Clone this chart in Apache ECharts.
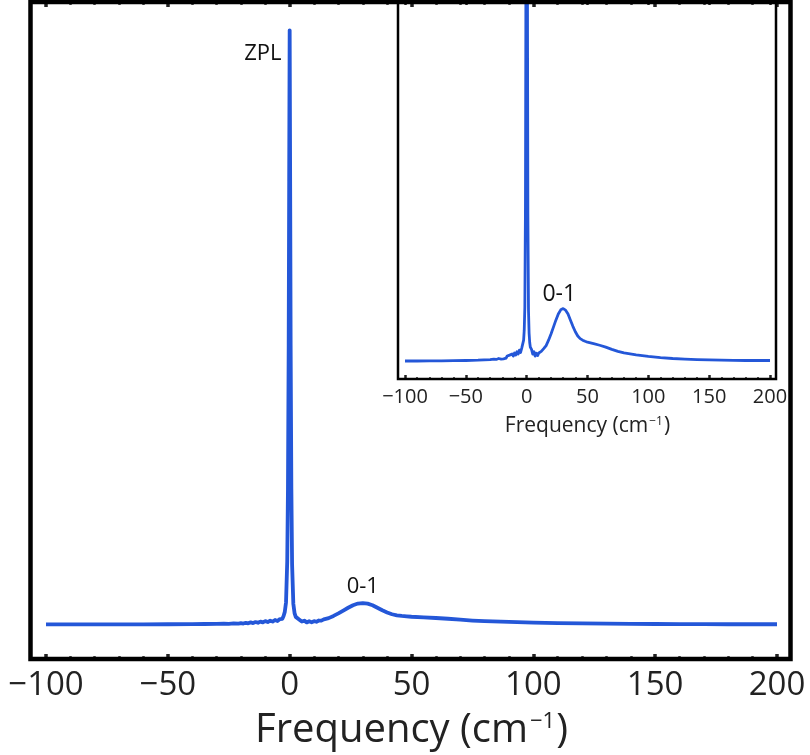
<!DOCTYPE html>
<html>
<head>
<meta charset="utf-8">
<script src="https://cdn.jsdelivr.net/npm/echarts@6/dist/echarts.min.js"></script>
<style>
html,body{margin:0;padding:0;background:#fff;}
#chart{width:810px;height:755px;}
</style>
</head>
<body>
<div id="chart"></div>
<script>
// ---- data ----
const frequency = [-100,-90,-80,-70,-60,-50,-40,-35,-30,-27,-25,-23,-21,-20,-19,-18,-17,-16,-15,-14,-13,-12,-11,-10,-9,-8,-7,-6,-5,-4,-3,-2.5,-2,-1.5,-1,-0.7,-0.4,-0.2,0,0.2,0.4,0.7,1,1.5,2,2.5,3,4,5,6,7,8,9,10,11,12,13,14,16,18,20,22,24,26,28,30,32,34,36,38,40,42,44,46,48,50,55,60,65,70,75,80,90,100,110,120,130,140,150,160,170,180,190,200];
const intensity = [5.50,5.50,5.51,5.51,5.52,5.53,5.55,5.57,5.59,5.62,5.60,5.66,5.62,5.70,5.64,5.76,5.68,5.82,5.72,5.88,5.76,5.95,5.82,6.02,5.88,6.10,5.95,6.20,6.05,6.35,6.40,6.85,7.50,9.00,15.5,27,50,76,100,76,50,27,15.0,8.8,7.3,6.7,6.40,6.25,5.95,6.10,5.82,6.00,5.85,6.02,5.92,6.12,6.10,6.30,6.50,6.85,7.25,7.70,8.15,8.55,8.82,8.90,8.80,8.55,8.15,7.75,7.40,7.12,6.95,6.85,6.78,6.72,6.62,6.52,6.40,6.25,6.12,6.02,5.90,5.80,5.72,5.66,5.62,5.59,5.57,5.55,5.54,5.53,5.53,5.53];
const xTicks = {min: -100, max: 200, interval: 50};
const mainAnnotations = [{text: 'ZPL', x: -11, y: 96.2}, {text: '0-1', x: 30, y: 11.45}];
const insetAnnotations = [{text: '0-1', x: 26.8, y: 9.8}];
const axisTitle = ['Frequency (cm', '\u22121', ')'];

// ---- chart ----
const seriesData = frequency.map((f, i) => [f, intensity[i]]);
const blue = '#2457d8';
const FONT = 'Open Sans';

function xAxisDef(grid, pos, big, showLabel) {
  return {
    type: 'value', gridIndex: grid, position: pos,
    min: xTicks.min, max: xTicks.max, interval: xTicks.interval,
    axisLine: {show: false},
    splitLine: {show: false},
    axisTick: {show: true, inside: true, length: big ? 5 : 4, lineStyle: {color: '#222', width: big ? 3.5 : 2.5}},
    minorTick: {show: true, splitNumber: 5, length: big ? 3 : 2, lineStyle: {color: '#444', width: big ? 2.5 : 1.8}},
    axisLabel: {
      show: showLabel, margin: big ? 10 : 8, color: '#222',
      fontFamily: FONT, fontSize: big ? 33 : 20,
      formatter: v => (v < 0 ? '\u2212' + Math.abs(v) : String(v))
    },
    name: showLabel ? ('{a|' + axisTitle[0] + '}{s|' + axisTitle[1] + '}{a|' + axisTitle[2] + '}') : '',
    nameLocation: 'middle',
    nameGap: big ? 52 : 37,
    nameTextStyle: {
      rich: {
        a: {fontFamily: FONT, fontSize: big ? 40 : 21, color: '#222'},
        s: {fontFamily: FONT, fontSize: big ? 22 : 12, color: '#222', verticalAlign: 'top', padding: big ? [0,1,17,2] : [0,1,8,1]}
      }
    }
  };
}

function markLabels(list, size) {
  return {
    silent: true,
    symbol: 'circle', symbolSize: 0,
    label: {show: true, position: 'inside', color: '#111', fontFamily: FONT, fontSize: size, formatter: p => p.name},
    data: list.map(a => ({name: a.text, coord: [a.x, a.y]}))
  };
}

const chart = echarts.init(document.getElementById('chart'), null, {renderer: 'canvas'});
chart.setOption({
  animation: false,
  backgroundColor: '#fff',
  grid: [
    {left: 46, right: 33, top: 2, bottom: 96, containLabel: false, outerBoundsMode: 'none'},
    {left: 405, right: 40, top: 1, bottom: 376, containLabel: false, outerBoundsMode: 'none'}
  ],
  xAxis: [
    xAxisDef(0, 'bottom', true, true),
    xAxisDef(0, 'top', true, false),
    xAxisDef(1, 'bottom', false, true),
    xAxisDef(1, 'top', false, false)
  ],
  yAxis: [
    {type: 'value', gridIndex: 0, min: 0, max: 104.5, show: false},
    {type: 'value', gridIndex: 1, min: 4.33, max: 28.87, show: false}
  ],
  graphic: [
    {type: 'rect', z: 100, shape: {x: 30.5, y: 2, width: 760, height: 657}, style: {fill: 'none', stroke: '#000', lineWidth: 4.5}},
    {type: 'rect', z: 100, shape: {x: 398, y: 1, width: 378, height: 378}, style: {fill: 'none', stroke: '#000', lineWidth: 2.5}}
  ],
  series: [
    {
      type: 'line', xAxisIndex: 0, yAxisIndex: 0, data: seriesData,
      showSymbol: false, smooth: false,
      lineStyle: {color: blue, width: 3.8, join: 'round'},
      markPoint: markLabels(mainAnnotations, 22)
    },
    {
      type: 'line', xAxisIndex: 2, yAxisIndex: 1, data: seriesData,
      showSymbol: false, smooth: false, clip: true,
      lineStyle: {color: blue, width: 2.8, join: 'round'},
      markPoint: markLabels(insetAnnotations, 23)
    }
  ]
});
</script>
</body>
</html>
